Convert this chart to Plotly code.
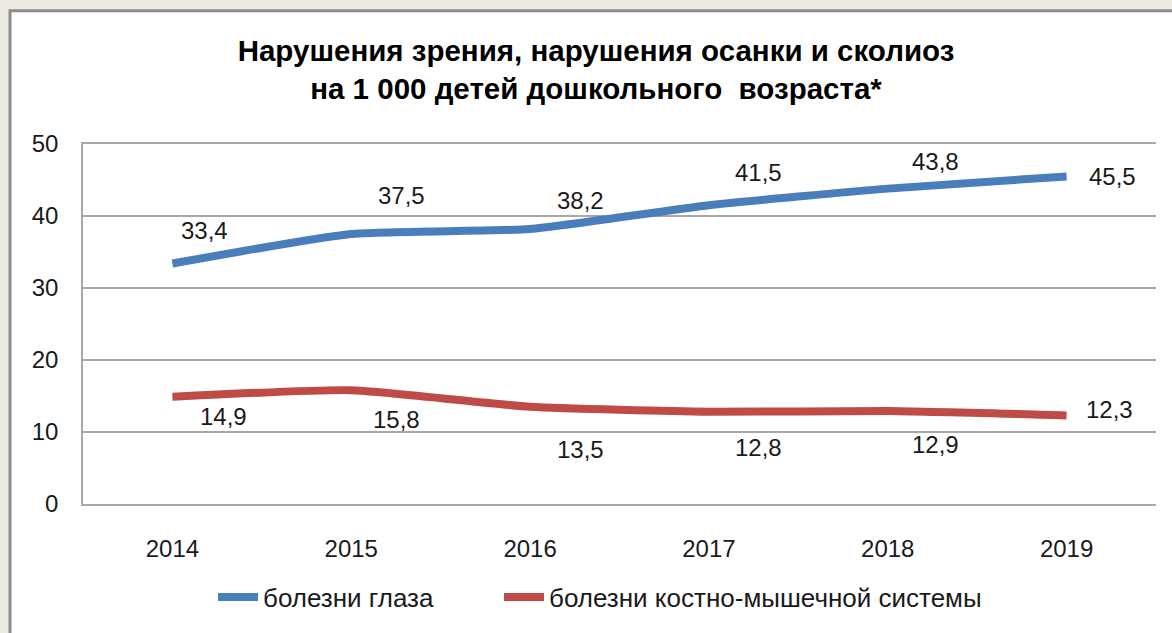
import plotly.graph_objects as go

years = ["2014", "2015", "2016", "2017", "2018", "2019"]
eye = [33.4, 37.5, 38.2, 41.5, 43.8, 45.5]
musculo = [14.9, 15.8, 13.5, 12.8, 12.9, 12.3]
eye_name = "болезни глаза"
musculo_name = "болезни костно-мышечной системы"
title_lines = ["Нарушения зрения, нарушения осанки и сколиоз",
               "на 1 000 детей дошкольного  возраста*"]
y_ticks = [0, 10, 20, 30, 40, 50]

# label offsets in pixels (dx, dy) - styling only
eye_off = [(32, -33), (50, -38), (50, -28), (50, -33), (48, -27), (46, 0)]
mus_off = [(51, 20), (45, 29), (50, 43), (50, 36), (48, 33), (43, -6)]

BLUE = "#4A7EBB"
RED = "#BE4B48"
TXT = "#1a1a1a"
W, H = 1172, 633
L, R, T, B = 83, 16, 144, 124
pw, ph = W - L - R, H - T - B

fig = go.Figure()
fig.add_trace(go.Scatter(x=years, y=eye, name=eye_name, mode="lines", legend="legend",
                         line=dict(color=BLUE, width=8, shape="spline", smoothing=0.5)))
fig.add_trace(go.Scatter(x=years, y=musculo, name=musculo_name, mode="lines", legend="legend2",
                         line=dict(color=RED, width=8, shape="spline", smoothing=0.5)))

def fmt(v):
    return f"{v:.1f}".replace(".", ",")

ann = []
for i, (v, (dx, dy)) in enumerate(zip(eye, eye_off)):
    ann.append(dict(x=i, y=v, xref="x", yref="y", text=fmt(v), showarrow=False,
                    xshift=dx, yshift=-dy,
                    font=dict(size=24, color=TXT, family="Liberation Sans")))
for i, (v, (dx, dy)) in enumerate(zip(musculo, mus_off)):
    ann.append(dict(x=i, y=v, xref="x", yref="y", text=fmt(v), showarrow=False,
                    xshift=dx, yshift=-dy,
                    font=dict(size=24, color=TXT, family="Liberation Sans")))

# white panel with grey frame
shapes = [dict(type="rect", xref="paper", yref="paper",
               x0=(10 - L) / pw, x1=(W + 20 - L) / pw,
               y0=(H - B - (H + 20)) / ph, y1=(H - B - 9) / ph,
               fillcolor="white", line=dict(color="#8C8C8C", width=3), layer="below")]

leg_common = dict(orientation="h", xref="container", yref="container",
                  xanchor="left", y=1 - 597 / H, yanchor="middle",
                  font=dict(size=26, color=TXT, family="Liberation Sans"),
                  bgcolor="rgba(0,0,0,0)", itemwidth=40)

fig.update_layout(
    width=W, height=H,
    margin=dict(l=L, r=R, t=T, b=B),
    paper_bgcolor="#EDEBE1",
    plot_bgcolor="rgba(0,0,0,0)",
    title=dict(text="<b>" + title_lines[0] + "<br>" + title_lines[1] + "</b>",
               x=596 / W, xref="container", xanchor="center",
               y=1 - 61 / H, yref="container", yanchor="middle",
               font=dict(size=29.5, color="#000000", family="Liberation Sans")),
    showlegend=True,
    legend=dict(x=213 / W, **leg_common),
    legend2=dict(x=499 / W, **leg_common),
    annotations=ann,
    shapes=shapes,
    font=dict(family="Liberation Sans", color=TXT),
)
fig.update_xaxes(type="category", range=[-0.5, 5.5], showgrid=False,
                 showline=True, mirror=True, linecolor="#A8A8A8", linewidth=1.5,
                 zeroline=False, ticks="", ticklabelstandoff=22,
                 tickfont=dict(size=24, color=TXT))
fig.update_yaxes(range=[0, 50], tickvals=y_ticks, showgrid=True, gridcolor="#A8A8A8",
                 gridwidth=1.5, showline=True, linecolor="#A8A8A8", linewidth=1.5,
                 zeroline=False, ticks="", ticklabelstandoff=18,
                 tickfont=dict(size=24, color=TXT))

fig.write_html("out.html", config={"displayModeBar": False},
               post_script="document.body.style.margin='0';document.body.style.overflow='hidden';")
